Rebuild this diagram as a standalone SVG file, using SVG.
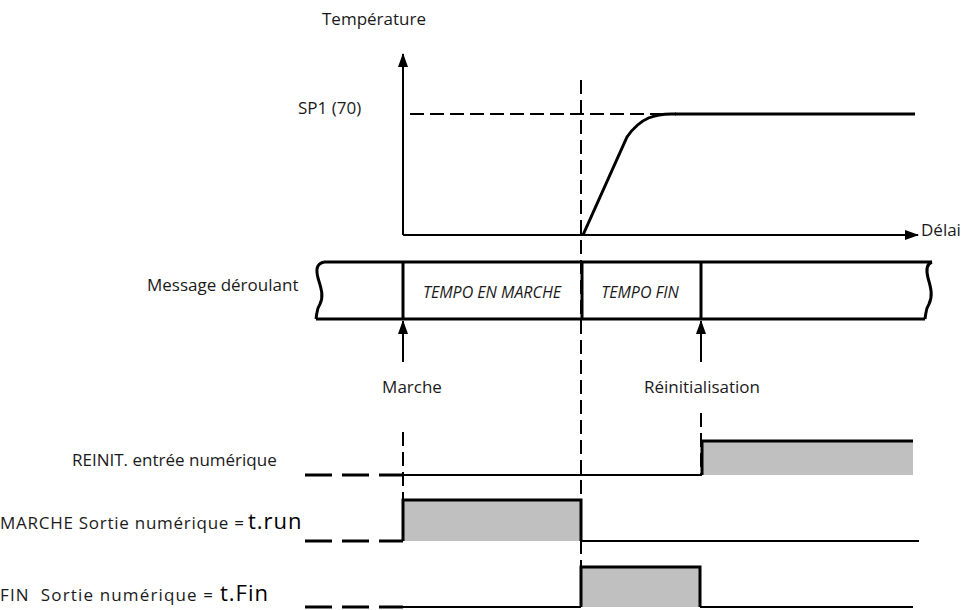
<svg xmlns="http://www.w3.org/2000/svg" width="961" height="610" viewBox="0 0 961 610">
<style>
text{font-family:"Open Sans","Noto Sans","Liberation Sans",sans-serif;font-size:17px;fill:#1a1a1a}
.it{font-style:italic;font-size:16px}
.seg{font-size:22px;letter-spacing:1px;fill:#000}
.ax{stroke:#000;stroke-width:2;fill:none}
.thick{stroke:#000;stroke-width:3;fill:none}
.dash{stroke:#000;stroke-width:2;fill:none;stroke-dasharray:14 6}
.sigdash{stroke:#000;stroke-width:3;fill:none;stroke-dasharray:27 10}
.fill{fill:#c0c0c0;stroke:none}
</style>
<defs>
<marker id="ah" markerWidth="14" markerHeight="10" refX="13" refY="5" orient="auto" markerUnits="userSpaceOnUse">
<path d="M0,0 L14,5 L0,10 Z" fill="#000"/>
</marker>
</defs>

<g id="chart">
<text x="322" y="25">Température</text>
<text x="298" y="114">SP1 (70)</text>
<text x="921" y="236">Délai</text>
<path class="dash" d="M410,114 H675"/>
<path class="thick" d="M675,114 H915"/>
<path class="thick" d="M583,235 L627,137 C640,118 655,113 676,114"/>
</g>

<g id="bar">
<text x="147" y="291">Message déroulant</text>
<path class="thick" d="M324,262 H932"/>
<path class="thick" d="M316,319 H925"/>
<path class="thick" d="M324,262 C316,264 316,270 318,278 C321,288 324,296 320,304 C316,310 317,314 316,319"/>
<path class="thick" d="M932,262 C926,264 926,270 928,278 C931,288 933,296 929,304 C925,310 926,314 925,319"/>
<path class="thick" d="M403,262 V319 M582,262 V319 M701,262 V319"/>
<text class="it" x="492" y="298" text-anchor="middle">TEMPO EN MARCHE</text>
<text class="it" x="640" y="298" text-anchor="middle">TEMPO FIN</text>
</g>

<g id="connectors">
<path class="ax" d="M403,235 V54" marker-end="url(#ah)"/>
<path class="ax" d="M403,235 H918" marker-end="url(#ah)"/>
<path class="ax" d="M403,362 V321" marker-end="url(#ah)"/>
<path class="ax" d="M701,362 V321" marker-end="url(#ah)"/>
<path class="dash" d="M581,80 V607"/>
<path class="dash" d="M403,432 V500"/>
<path class="dash" d="M701,413 V475"/>
</g>

<g id="events">
<text x="412" y="393" text-anchor="middle">Marche</text>
<text x="702" y="393" text-anchor="middle">Réinitialisation</text>
</g>

<g id="reinit">
<text x="72" y="466">REINIT. entrée numérique</text>
<rect class="fill" x="703" y="441" width="210" height="34"/>
<path class="sigdash" d="M305,475 H403"/>
<path class="ax" d="M403,475 H702"/>
<path class="thick" d="M702,475 V441 H913"/>
</g>

<g id="marche">
<text x="0" y="529" textLength="244" lengthAdjust="spacing">MARCHE Sortie numérique =</text>
<text class="seg" x="248" y="529">t.run</text>
<rect class="fill" x="404" y="500" width="177" height="41"/>
<path class="sigdash" d="M305,541 H403"/>
<path class="thick" d="M403,541 V500 H581 V541"/>
<path class="ax" d="M581,541 H919"/>
</g>

<g id="fin">
<text x="0" y="601" textLength="213" lengthAdjust="spacing">FIN&#160; Sortie numérique =</text>
<text class="seg" x="220" y="601">t.Fin</text>
<rect class="fill" x="582" y="567" width="118" height="40"/>
<path class="sigdash" d="M305,607 H403"/>
<path class="ax" d="M403,607 H581"/>
<path class="thick" d="M581,607 V567 H700 V607"/>
<path class="ax" d="M700,607 H913"/>
</g>
</svg>
